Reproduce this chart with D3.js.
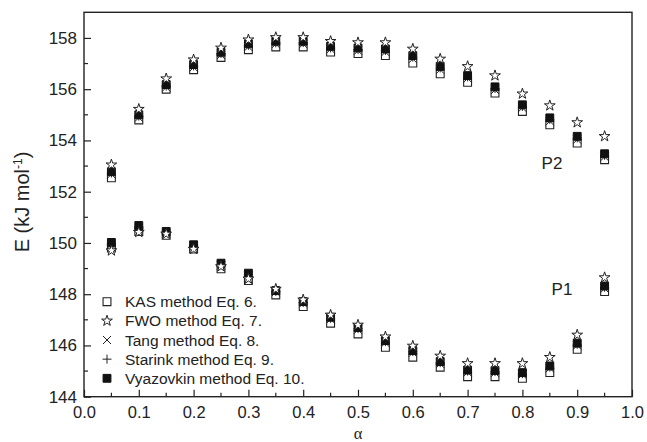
<!DOCTYPE html>
<html><head><meta charset="utf-8">
<script src="https://cdn.jsdelivr.net/npm/d3@7"></script>
<style>body{margin:0;background:#fff}svg{display:block}text{font-family:Arial,"Liberation Sans",sans-serif;fill:#222}</style>
</head><body><svg id="c" width="647" height="442"></svg>
<script>
const alpha = [0.05,0.10,0.15,0.20,0.25,0.30,0.35,0.40,0.45,0.50,0.55,0.60,0.65,0.70,0.75,0.80,0.85,0.90,0.95];
// P2 peak
const kasP2  = [152.54,154.80,156.00,156.76,157.24,157.54,157.65,157.65,157.45,157.39,157.31,157.02,156.60,156.27,155.85,155.13,154.61,153.90,153.25];
const fwoP2  = [153.05,155.22,156.41,157.15,157.61,157.93,158.02,158.02,157.87,157.82,157.82,157.57,157.18,156.89,156.53,155.82,155.36,154.70,154.16];
const tangP2 = [152.68,154.89,156.07,156.85,157.33,157.65,157.76,157.76,157.56,157.50,157.45,157.18,156.76,156.42,155.97,155.27,154.75,154.03,153.36];
const starP2 = [152.73,154.95,156.12,156.91,157.39,157.71,157.81,157.82,157.61,157.55,157.51,157.25,156.83,156.48,156.03,155.33,154.82,154.10,153.42];
const vyaP2  = [152.78,155.00,156.18,156.96,157.44,157.77,157.87,157.87,157.67,157.61,157.57,157.31,156.89,156.53,156.09,155.39,154.88,154.16,153.48];
// P1 peak
const kasP1  = [149.80,150.45,150.30,149.76,148.99,148.53,147.97,147.52,146.87,146.45,145.93,145.54,145.15,144.78,144.78,144.72,144.94,145.85,148.10];
const fwoP1  = [149.70,150.42,150.35,149.76,149.08,148.60,148.20,147.78,147.19,146.80,146.34,145.98,145.59,145.30,145.30,145.30,145.54,146.41,148.65];
const tangP1 = [149.92,150.58,150.38,149.85,149.12,148.72,148.08,147.64,147.02,146.61,146.10,145.71,145.28,144.95,144.93,144.86,145.11,146.00,148.22];
const starP1 = [149.97,150.63,150.42,149.89,149.16,148.77,148.11,147.68,147.06,146.66,146.15,145.76,145.33,145.00,144.98,144.90,145.16,146.05,148.27];
const vyaP1  = [150.02,150.68,150.45,149.93,149.21,148.82,148.14,147.71,147.10,146.70,146.19,145.80,145.37,145.04,145.02,144.94,145.20,146.09,148.32];

const xTicks = [0.0,0.1,0.2,0.3,0.4,0.5,0.6,0.7,0.8,0.9,1.0];
const xMinor = [0.05,0.15,0.25,0.35,0.45,0.55,0.65,0.75,0.85,0.95];
const yTicks = [144,146,148,150,152,154,156,158];
const yMinor = [145,147,149,151,153,155,157];
const legendLabels = ["KAS method Eq. 6.","FWO method Eq. 7.","Tang method Eq. 8.","Starink method Eq. 9.","Vyazovkin method Eq. 10."];

const svg = d3.select("#c");
const L=84, R=632, T=12.3, B=396.7;
const x = d3.scaleLinear().domain([0,1]).range([L,R]);
const y = d3.scaleLinear().domain([144,159]).range([B,T]);

// axes
const gx = svg.append("g").attr("transform",`translate(0,${B})`)
  .call(d3.axisBottom(x).tickValues(xTicks).tickFormat(d3.format(".1f")).tickSizeInner(-7).tickSizeOuter(0).tickPadding(10));
gx.append("g").selectAll("line").data(xMinor).join("line")
  .attr("x1",d=>x(d)).attr("x2",d=>x(d)).attr("y1",0).attr("y2",-4).attr("stroke","#222");
const gy = svg.append("g").attr("transform",`translate(${L},0)`)
  .call(d3.axisLeft(y).tickValues(yTicks).tickFormat(d3.format("d")).tickSizeInner(-7).tickSizeOuter(0).tickPadding(7));
gy.append("g").selectAll("line").data(yMinor).join("line")
  .attr("y1",d=>y(d)).attr("y2",d=>y(d)).attr("x1",0).attr("x2",4).attr("stroke","#222");
[gx,gy].forEach(g=>{g.select(".domain").remove();g.selectAll("line").attr("stroke","#222").attr("stroke-width",1.2);
  g.selectAll("text").style("font-family","Arial, 'Liberation Sans', sans-serif").attr("fill","#222");});
gy.selectAll("text").style("font-size","17px");
gx.selectAll("text").style("font-size","16.5px");
gx.selectAll(".tick text").attr("dy","0.71em");

// frame
svg.append("rect").attr("x",L).attr("y",T).attr("width",R-L).attr("height",B-T)
  .attr("fill","none").attr("stroke","#222").attr("stroke-width",1.4);

// symbols
const sq = d3.symbol().type(d3.symbolSquare).size(62)();
const star = d3.symbol().type(d3.symbolStar).size(36)();
const cross = "M-4,-4L4,4M-4,4L4,-4";
const plus = "M-4.5,0L4.5,0M0,-4.5L0,4.5";
function draw(vals, kind){
  const g = svg.append("g");
  const sel = g.selectAll("path").data(vals).join("path")
    .attr("transform",(d,i)=>`translate(${x(alpha[i])},${y(d)})`);
  style(sel, kind);
}
function style(sel, kind){
  if(kind==="kas") sel.attr("d",sq).attr("fill","#fff").attr("stroke","#222").attr("stroke-width",1.1);
  if(kind==="fwo") sel.attr("d",star).attr("fill","#fff").attr("stroke","#222").attr("stroke-width",1);
  if(kind==="tang") sel.attr("d",cross).attr("fill","none").attr("stroke","#222").attr("stroke-width",1);
  if(kind==="star") sel.attr("d",plus).attr("fill","none").attr("stroke","#222").attr("stroke-width",1);
  if(kind==="vya") sel.attr("d",sq).attr("fill","#111").attr("stroke","#111").attr("stroke-width",1);
}
draw(kasP2,"kas"); draw(kasP1,"kas");
draw(tangP2,"tang"); draw(tangP1,"tang");
draw(starP2,"star"); draw(starP1,"star");
draw(vyaP2,"vya"); draw(vyaP1,"vya");
draw(fwoP2,"fwo"); draw(fwoP1,"fwo");

// legend
const kinds = ["kas","fwo","tang","star","vya"];
const lg = svg.append("g");
kinds.forEach((k,i)=>{
  const yy = 301.7 + i*19.15;
  style(lg.append("path").attr("transform",`translate(107,${yy})`), k);
  lg.append("text").attr("x",125).attr("y",yy+5.5).style("font-size","15.5px").text(legendLabels[i]);
});

// peak labels
svg.append("text").attr("x",552).attr("y",169).attr("text-anchor","middle").style("font-size","17px").text("P2");
svg.append("text").attr("x",562).attr("y",295).attr("text-anchor","middle").style("font-size","17px").text("P1");

// axis titles
svg.append("text").attr("x",x(0.5)).attr("y",438.5).attr("text-anchor","middle")
  .style("font-family","'Liberation Serif','DejaVu Serif',serif").style("font-size","16.5px").text("α");
const yt = svg.append("text").attr("transform","translate(29,202) rotate(-90)").attr("text-anchor","middle").style("font-size","20px");
yt.append("tspan").text("E (kJ mol");
yt.append("tspan").attr("baseline-shift","super").style("font-size","12px").text("-1");
yt.append("tspan").text(")");
</script></body></html>
